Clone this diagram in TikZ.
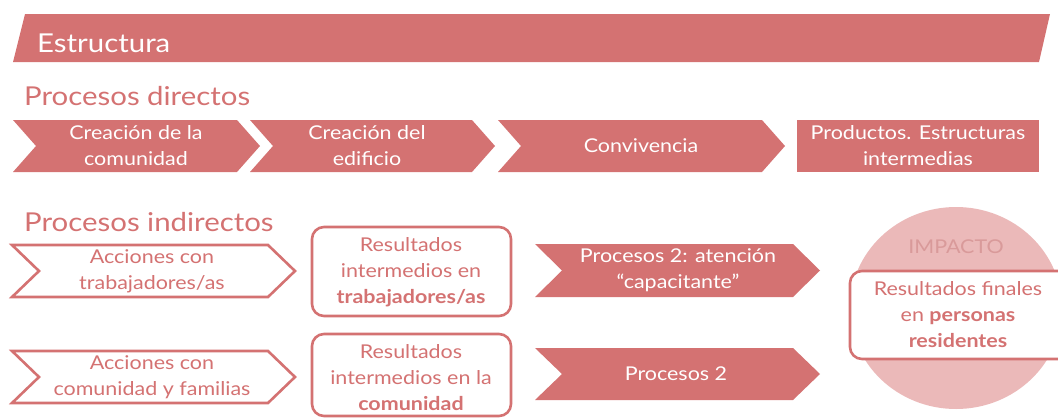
\documentclass[tikz,border=0pt]{standalone}
\usepackage{fontspec}
\setmainfont{Lato}[FakeStretch=1.13]
\definecolor{rojo}{HTML}{D47272}
\definecolor{rosa}{HTML}{EBB9B9}
\definecolor{rosatxt}{HTML}{D99A9A}
\newcommand\chevpath[5]{(#1,#3) -- (#2,#3) -- ({#2+#5},{(#3+#4)/2}) -- (#2,#4) -- (#1,#4) -- ({#1+#5},{(#3+#4)/2}) -- cycle}
\tikzset{
  filledchev/.style={fill=rojo, draw=none},
  outchev/.style={draw=rojo, line width=2.6pt, fill=white, line join=miter},
  whitetxt/.style={text=white, align=center, font=\fontsize{19}{26}\selectfont, inner sep=0pt},
  redtxt/.style={text=rojo, align=center, font=\fontsize{19}{26}\selectfont, inner sep=0pt},
  heading/.style={text=rojo, anchor=base west, font=\fontsize{26}{30}\selectfont, inner sep=0pt},
  roundbox/.style={draw=rojo, line width=2.6pt, fill=white, rounded corners=12pt},
}
\begin{document}
\begin{tikzpicture}[x=1pt,y=-1pt]
\useasboundingbox (0,0) rectangle (1058,418);
\clip (0,0) rectangle (1058,418);
% banner
\fill[rojo] (25,14) -- (1050,14) -- (1039,62) -- (13,62) -- cycle;
\node[heading, text=white] (estructura) at (37,52) {Estructura};
% procesos directos
\node[heading] (pdirectos) at (24,105) {Procesos directos};
\fill[filledchev] \chevpath{13}{237}{120}{172}{23};
\fill[filledchev] \chevpath{250}{472}{120}{172}{23};
\fill[filledchev] \chevpath{498}{762}{120}{172}{23};
\fill[filledchev] (797,120) rectangle (1039,172);
\node[whitetxt] (c1) at (136,146) {Creación de la\\comunidad};
\node[whitetxt] (c2) at (367,146) {Creación del\\edificio};
\node[whitetxt] (c3) at (641,146) {Convivencia};
\node[whitetxt] (c4) at (918,146) {Productos. Estructuras\\intermedias};
% procesos indirectos
\node[heading] (pind) at (24,231) {Procesos indirectos};
\draw[outchev] \chevpath{12}{268}{245}{297}{27};
\draw[outchev] \chevpath{12}{268}{351}{403}{27};
\node[redtxt] (a1) at (152,271) {Acciones con\\trabajadores/as};
\node[redtxt] (a2) at (152,377) {Acciones con\\comunidad y familias};
\draw[roundbox] (312,227) rectangle (511,316);
\draw[roundbox] (312,334) rectangle (511,416);
\node[redtxt] (r1) at (411,272) {Resultados\\intermedios en\\\textbf{trabajadores/as}};
\node[redtxt] (r2) at (411,378) {Resultados\\intermedios en la\\\textbf{comunidad}};
\fill[filledchev] \chevpath{535}{793}{244}{297}{27};
\fill[filledchev] \chevpath{535}{793}{348}{400}{27};
\node[whitetxt] (p1) at (678,270) {Procesos 2: atención\\“capacitante”};
\node[whitetxt] (p2) at (676,374) {Procesos 2};
% impacto
\fill[rosa] (956,308) ellipse [x radius=106, y radius=101];
\node[redtxt, text=rosatxt] (impacto) at (956,247) {IMPACTO};
\draw[roundbox] (850,271) rectangle (1075,359);
\node[redtxt] (final) at (958,315) {Resultados finales\\en \textbf{personas}\\\textbf{residentes}};
\end{tikzpicture}
\end{document}
